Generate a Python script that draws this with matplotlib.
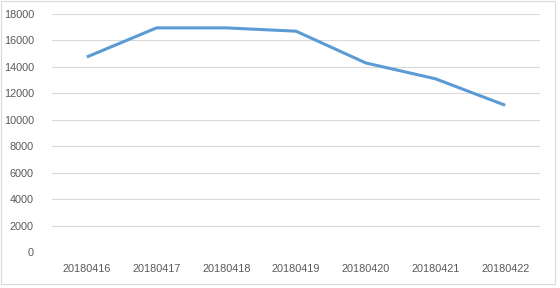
import matplotlib.pyplot as plt
from matplotlib.patches import Rectangle

dates = ['20180416', '20180417', '20180418', '20180419', '20180420', '20180421', '20180422']
values = [14750, 16950, 16950, 16700, 14300, 13100, 11100]
yticks = list(range(0, 18001, 2000))

plt.rcParams['font.family'] = ['Liberation Sans', 'DejaVu Sans']

fig = plt.figure(figsize=(5.6, 2.88), dpi=100)
ax = fig.add_axes([52 / 560, 1 - 252 / 288, 488 / 560, 238 / 288])

x = range(len(dates))
ax.plot(x, values, color='#5B9BD5', lw=2.2, solid_capstyle='butt', zorder=3)

ax.set_xlim(-0.5, len(dates) - 0.5)
ax.set_ylim(0, 18000)
ax.set_xticks(list(x))
ax.set_xticklabels(dates)
ax.set_yticks(yticks)
ax.set_yticklabels([str(v) for v in yticks])
ax.grid(axis='y', color='#D9D9D9', lw=0.8)
ax.set_axisbelow(True)
for s in ax.spines.values():
    s.set_visible(False)
ax.tick_params(axis='both', length=0, labelsize=7.8, colors='#595959')
ax.tick_params(axis='y', pad=13)
ax.tick_params(axis='x', pad=9)

# chart border
fig.patches.append(Rectangle((1 / 560, 4 / 288), 554 / 560, 283 / 288, transform=fig.transFigure,
                             fill=False, edgecolor='#D9D9D9', lw=0.8))

fig.savefig('out.png', dpi=100)
